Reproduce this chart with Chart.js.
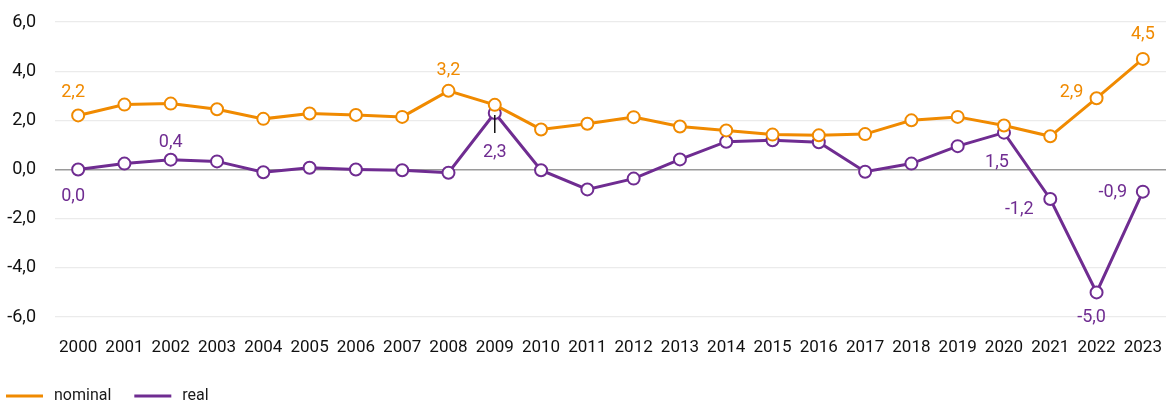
<!DOCTYPE html>
<html>
<head>
<meta charset="utf-8">
<script src="https://cdn.jsdelivr.net/npm/chart.js@4"></script>
<style>
  html, body { margin: 0; padding: 0; background: #fff; }
  #wrap { width: 1174px; height: 405px; }
</style>
</head>
<body>
<div id="wrap"><canvas id="chart" width="1174" height="405"></canvas></div>
<script>
// ─── Data ───
const years = ['2000','2001','2002','2003','2004','2005','2006','2007','2008','2009','2010','2011',
               '2012','2013','2014','2015','2016','2017','2018','2019','2020','2021','2022','2023'];
const nominal = [2.2, 2.64, 2.68, 2.45, 2.06, 2.28, 2.22, 2.14, 3.2, 2.63, 1.63, 1.86,
                 2.13, 1.75, 1.59, 1.42, 1.39, 1.44, 2.0, 2.14, 1.79, 1.35, 2.9, 4.5];
const real    = [0.0, 0.24, 0.4, 0.33, -0.11, 0.07, 0.0, -0.03, -0.13, 2.3, -0.03, -0.81,
                 -0.37, 0.41, 1.13, 1.19, 1.11, -0.09, 0.24, 0.95, 1.5, -1.2, -5.0, -0.9];
const yTicks  = [-6, -4, -2, 0, 2, 4, 6];

// ─── Style ───
const FONT = "Roboto, 'Noto Sans', sans-serif";
const ORANGE = '#f08a00';
const PURPLE = '#6f2c91';
const fmt = v => v.toFixed(1).replace('.', ',');

// which points carry a value label, and where (offset from the marker)
const valueLabels = [
  { ds: 0, i: 0,  dx: -5,  dy: -23 },
  { ds: 0, i: 8,  dx: 0,   dy: -20 },
  { ds: 0, i: 22, dx: -25, dy: -6 },
  { ds: 0, i: 23, dx: 0,   dy: -24 },
  { ds: 1, i: 0,  dx: -5,  dy: 27 },
  { ds: 1, i: 2,  dx: 0,   dy: -17 },
  { ds: 1, i: 9,  dx: 0,   dy: 40, leader: true },
  { ds: 1, i: 20, dx: -7,  dy: 30 },
  { ds: 1, i: 21, dx: -31, dy: 10 },
  { ds: 1, i: 22, dx: -5,  dy: 25 },
  { ds: 1, i: 23, dx: -30, dy: 1 },
];

const valueLabelPlugin = {
  id: 'valueLabels',
  afterDatasetsDraw(chart) {
    const ctx = chart.ctx;
    ctx.save();
    ctx.font = `18px ${FONT}`;
    ctx.textAlign = 'center';
    ctx.textBaseline = 'middle';
    valueLabels.forEach(l => {
      const ds = chart.data.datasets[l.ds];
      const pt = chart.getDatasetMeta(l.ds).data[l.i];
      if (l.leader) {
        ctx.strokeStyle = '#111';
        ctx.lineWidth = 1.5;
        ctx.beginPath();
        ctx.moveTo(pt.x, pt.y + 2);
        ctx.lineTo(pt.x, pt.y + 20);
        ctx.stroke();
      }
      ctx.fillStyle = ds.borderColor;
      ctx.fillText(fmt(ds.data[l.i]), pt.x + l.dx, pt.y + l.dy);
    });
    ctx.restore();
  }
};

// simple legend at bottom-left: short line + label
const lineLegendPlugin = {
  id: 'lineLegend',
  afterDraw(chart) {
    const ctx = chart.ctx;
    const y = 396;
    let x = 6;
    ctx.save();
    ctx.font = `16px ${FONT}`;
    ctx.textBaseline = 'middle';
    ctx.textAlign = 'left';
    chart.data.datasets.forEach(ds => {
      ctx.strokeStyle = ds.borderColor;
      ctx.lineWidth = 3;
      ctx.beginPath();
      ctx.moveTo(x, y);
      ctx.lineTo(x + 37, y);
      ctx.stroke();
      ctx.fillStyle = '#1a1a1a';
      ctx.fillText(ds.label, x + 48, y);
      x += 48 + ctx.measureText(ds.label).width + 23;
    });
    ctx.restore();
  }
};

const series = (label, data, color) => ({
  label, data,
  borderColor: color,
  backgroundColor: '#fff',
  borderWidth: 3,
  pointRadius: 6,
  pointBorderWidth: 2,
  pointBackgroundColor: '#fff',
  pointBorderColor: color,
  tension: 0,
});

new Chart(document.getElementById('chart'), {
  type: 'line',
  data: {
    labels: years,
    datasets: [
      series('nominal', nominal, ORANGE),
      series('real', real, PURPLE),
    ],
  },
  options: {
    responsive: false,
    animation: false,
    layout: { padding: { top: 0, right: 0, bottom: 45, left: 0 } },
    plugins: {
      legend: { display: false },
      tooltip: { enabled: false },
    },
    scales: {
      x: {
        offset: true,
        grid: { display: false, drawTicks: false },
        border: { display: false },
        ticks: { color: '#111', padding: 21, maxRotation: 0, autoSkip: false, font: { family: FONT, size: 17 } },
        // tick padding also feeds the side padding; keep the plot flush to the edges
        afterFit: s => { s.height = 43; s.paddingLeft = 0; s.paddingRight = 0; },
      },
      y: {
        min: -6, max: 6,
        afterBuildTicks: s => { s.ticks = yTicks.map(v => ({ value: v })); },
        grid: {
          drawTicks: false,
          color: c => c.tick.value === 0 ? '#9a9a9a' : '#ebebeb',
          lineWidth: c => c.tick.value === 0 ? 1.5 : 1.2,
        },
        border: { display: false },
        ticks: { color: '#111', padding: 19, callback: v => fmt(v), font: { family: FONT, size: 18 } },
        afterFit: s => { s.width = 55; s.paddingTop = 22; s.paddingBottom = 10; },
      },
    },
  },
  plugins: [valueLabelPlugin, lineLegendPlugin],
});
</script>
</body>
</html>
